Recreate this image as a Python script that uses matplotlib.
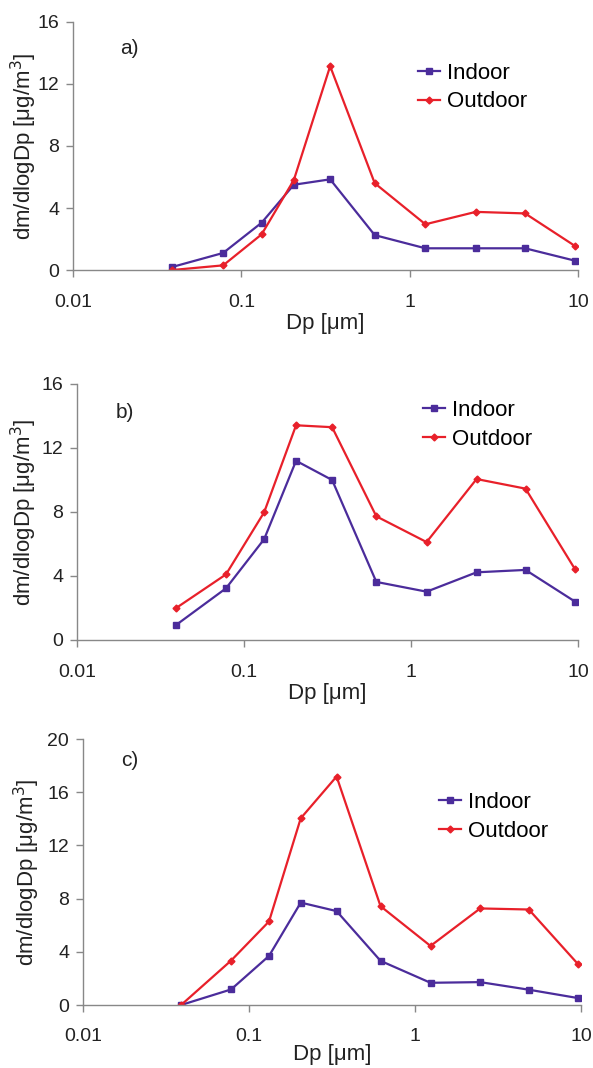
import matplotlib.pyplot as plt
from matplotlib.ticker import FixedLocator, FixedFormatter, NullLocator

plt.rcParams['font.family'] = ['Liberation Sans', 'DejaVu Sans']

# particle diameter, um (impactor stage midpoints)
dp = [0.039, 0.078, 0.132, 0.205, 0.337, 0.62, 1.24, 2.47, 4.85, 9.6]

# panel a
indoor_a = [0.2, 1.1, 3.05, 5.5, 5.85, 2.25, 1.4, 1.4, 1.4, 0.6]
outdoor_a = [0.0, 0.3, 2.3, 5.8, 13.15, 5.6, 2.95, 3.75, 3.65, 1.55]
# panel b
indoor_b = [0.92, 3.23, 6.3, 11.2, 10.0, 3.63, 3.02, 4.23, 4.38, 2.4]
outdoor_b = [1.98, 4.1, 7.98, 13.42, 13.3, 7.73, 6.12, 10.06, 9.46, 4.42]
# panel c
indoor_c = [0.0, 1.17, 3.69, 7.7, 7.06, 3.32, 1.67, 1.72, 1.15, 0.52]
outdoor_c = [0.0, 3.34, 6.28, 14.04, 17.18, 7.43, 4.44, 7.26, 7.18, 3.07]

panels = [
    ('a)', indoor_a, outdoor_a, 16, [0, 4, 8, 12, 16]),
    ('b)', indoor_b, outdoor_b, 16, [0, 4, 8, 12, 16]),
    ('c)', indoor_c, outdoor_c, 20, [0, 4, 8, 12, 16, 20]),
]
xticks = [0.01, 0.1, 1, 10]
xlabels = ['0.01', '0.1', '1', '10']

W, H = 593, 1068
# axes boxes in pixels: left, top, right, bottom
boxes = [(73, 22, 578, 270), (77, 384, 578, 640), (83, 739, 581, 1005)]
legpos = [(0.683, 0.736), (0.69, 0.84), (0.715, 0.708)]
tagpos = [(0.093, 0.895), (0.077, 0.89), (0.077, 0.918)]
ylabx = [-0.067, -0.076, -0.082]
xpads = [12.5, 12.5, 11.5]
xlpads = [1, 1, -1]

fig = plt.figure(figsize=(W / 100, H / 100), dpi=100)
indoor_col = '#4B2C9B'
outdoor_col = '#E8202A'
axis_col = '#888888'

for i, (tag, ind, outd, ymax, yt) in enumerate(panels):
    l, t, r, b = boxes[i]
    ax = fig.add_axes([l / W, 1 - b / H, (r - l) / W, (b - t) / H])
    ax.plot(dp, ind, color=indoor_col, marker='s', ms=5, lw=1.6, label='Indoor')
    ax.plot(dp, outd, color=outdoor_col, marker='D', ms=3.5, lw=1.6, label='Outdoor')
    ax.set_xscale('log')
    ax.set_xlim(0.01, 10)
    ax.set_ylim(0, ymax)
    ax.xaxis.set_major_locator(FixedLocator(xticks))
    ax.xaxis.set_major_formatter(FixedFormatter(xlabels))
    ax.xaxis.set_minor_locator(NullLocator())
    ax.set_yticks(yt)
    for s in ['top', 'right']:
        ax.spines[s].set_visible(False)
    for s in ['left', 'bottom']:
        ax.spines[s].set_color(axis_col)
        ax.spines[s].set_linewidth(1.0)
    ax.tick_params(axis='both', colors=axis_col, labelcolor='#222222',
                   labelsize=14, length=5, width=1.0, direction='out')
    ax.tick_params(axis='x', pad=xpads[i])
    ax.tick_params(axis='y', pad=5)
    ax.set_xlabel('Dp [\u03bcm]', fontsize=16, color='#222222', labelpad=xlpads[i])
    ax.set_ylabel('dm/dlogDp [\u03bcg/m$^3$]', fontsize=16, color='#222222')
    ax.yaxis.set_label_coords(ylabx[i], 0.5)
    ax.text(tagpos[i][0], tagpos[i][1], tag, transform=ax.transAxes, fontsize=15,
            color='#222222', va='center')
    ax.legend(loc='center left', bbox_to_anchor=legpos[i], frameon=False, fontsize=16,
              handlelength=1.0, handletextpad=0.3, labelspacing=0.35,
              borderaxespad=0, borderpad=0)

fig.savefig('out.png', dpi=100)
